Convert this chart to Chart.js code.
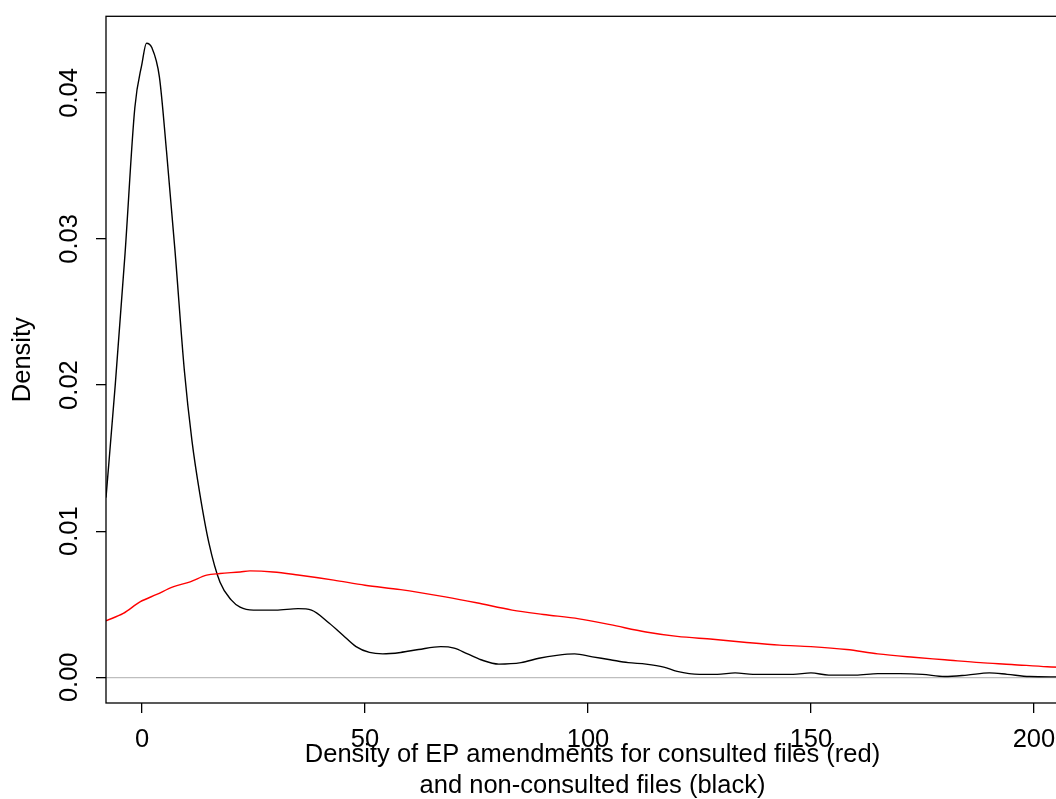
<!DOCTYPE html>
<html>
<head>
<meta charset="utf-8">
<script src="https://cdn.jsdelivr.net/npm/chart.js@4/dist/chart.umd.min.js"></script>
<style>
  html, body { margin: 0; padding: 0; background: #fff; overflow: hidden; }
  #grafico { display: block; }
</style>
</head>
<body>
<canvas id="grafico" width="1080" height="799"></canvas>
<script>
// Dados (densidades)
const xNaoConsultados = [-8.07, -6, -3.8, -1.6, 0, 1, 2.2, 3.9, 5.5, 7.4, 9.5, 11.2, 13, 15, 17.5, 20, 22, 25, 30, 35, 38, 42, 45, 48, 51, 54, 58, 62, 67, 70, 73, 76, 80, 85, 89, 93, 97, 101, 105, 109, 113, 117, 120, 125, 129, 133, 137, 141, 146, 150, 154, 160, 165, 170, 175, 180, 185, 190, 194, 199, 205, 210];
const yNaoConsultados = [0.0123, 0.020, 0.029, 0.039, 0.042, 0.0434, 0.0431, 0.0411, 0.036, 0.0292, 0.021, 0.0162, 0.0125, 0.0092, 0.0065, 0.0053, 0.0048, 0.0046, 0.0046, 0.0047, 0.0046, 0.0037, 0.0029, 0.0021, 0.0017, 0.0016, 0.0017, 0.0019, 0.0021, 0.0020, 0.0016, 0.0012, 0.0009, 0.0010, 0.0013, 0.0015, 0.0016, 0.0014, 0.0012, 0.0010, 0.0009, 0.0007, 0.0004, 0.0002, 0.0002, 0.0003, 0.0002, 0.0002, 0.0002, 0.0003, 0.00015, 0.00015, 0.00025, 0.00025, 0.0002, 0.00005, 0.00015, 0.0003, 0.0002, 0.00005, 0.00003, 0.00002];

const xConsultados = [-8.07, -4.2, -0.45, 3.3, 6.95, 10.8, 14.5, 17.5, 22, 24.2, 29.4, 35, 43, 50, 58, 68, 75, 83, 90, 98, 105, 113, 120, 128, 135, 143, 150, 158, 165, 173, 180, 188, 195, 203, 210];
const yConsultados = [0.00387, 0.00437, 0.00516, 0.00567, 0.00619, 0.00653, 0.00699, 0.0071, 0.00721, 0.00728, 0.00721, 0.0070, 0.00665, 0.0063, 0.0060, 0.0055, 0.0051, 0.0046, 0.0043, 0.0040, 0.0036, 0.0031, 0.0028, 0.0026, 0.0024, 0.0022, 0.0021, 0.0019, 0.0016, 0.00137, 0.0012, 0.0010, 0.00088, 0.00072, 0.00065];

const ticksX = [0, 50, 100, 150, 200];
const ticksY = [0, 0.01, 0.02, 0.03, 0.04];

const tituloX = ['Density of EP amendments for consulted files (red)', 'and non-consulted files (black)'];
const tituloY = 'Density';

function pares(xs, ys) {
  return xs.map((x, i) => ({ x: x, y: ys[i] }));
}

// Moldura do gráfico (box do R)
const moldura = {
  id: 'moldura',
  afterDraw(chart) {
    const a = chart.chartArea;
    const ctx = chart.ctx;
    ctx.save();
    ctx.strokeStyle = '#000';
    ctx.lineWidth = 1.3;
    ctx.strokeRect(a.left, a.top, a.right - a.left, a.bottom - a.top);
    ctx.restore();
  }
};

Chart.defaults.font.family = '"Liberation Sans", Arial, sans-serif';
Chart.defaults.color = '#000';

new Chart(document.getElementById('grafico').getContext('2d'), {
  type: 'line',
  data: {
    datasets: [
      {
        label: 'consulted',
        data: pares(xConsultados, yConsultados),
        borderColor: '#ff0000',
        borderWidth: 1.4,
        pointRadius: 0,
        cubicInterpolationMode: 'monotone'
      },
      {
        label: 'non-consulted',
        data: pares(xNaoConsultados, yNaoConsultados),
        borderColor: '#000000',
        borderWidth: 1.4,
        pointRadius: 0,
        cubicInterpolationMode: 'monotone'
      }
    ]
  },
  options: {
    responsive: false,
    animation: false,
    layout: { padding: { left: 0, top: 15, right: 1, bottom: 0 } },
    plugins: {
      legend: { display: false },
      tooltip: { enabled: false }
    },
    scales: {
      x: {
        type: 'linear',
        min: -8.07,
        max: 210.1,
        afterBuildTicks: s => { s.ticks = ticksX.map(v => ({ value: v })); },
        afterFit: s => { s.height = 96; },
        border: { display: false },
        grid: { drawOnChartArea: false, drawTicks: true, tickLength: 10, tickColor: '#000', lineWidth: 1.3 },
        ticks: { font: { size: 25.5 }, padding: 12, maxRotation: 0, callback: v => String(v) },
        title: { display: true, text: tituloX, font: { size: 25.5, lineHeight: 1.2 }, padding: { top: 0, bottom: -2 } }
      },
      y: {
        type: 'linear',
        min: -0.00176,
        max: 0.04524,
        afterBuildTicks: s => { s.ticks = ticksY.map(v => ({ value: v })); },
        afterFit: s => { s.width = 106; },
        border: { display: false },
        grid: {
          drawOnChartArea: true,
          drawTicks: true,
          tickLength: 10,
          tickColor: '#000',
          lineWidth: 1.3,
          color: c => (c.tick && c.tick.value === 0 ? '#bebebe' : 'rgba(0,0,0,0)')
        },
        ticks: { font: { size: 25.5 }, padding: 1, minRotation: 90, maxRotation: 90, crossAlign: 'center', callback: v => v.toFixed(2) },
        title: { display: true, text: tituloY, font: { size: 25.5 }, padding: { top: 8, bottom: 0 } }
      }
    }
  },
  plugins: [moldura]
});
</script>
</body>
</html>
